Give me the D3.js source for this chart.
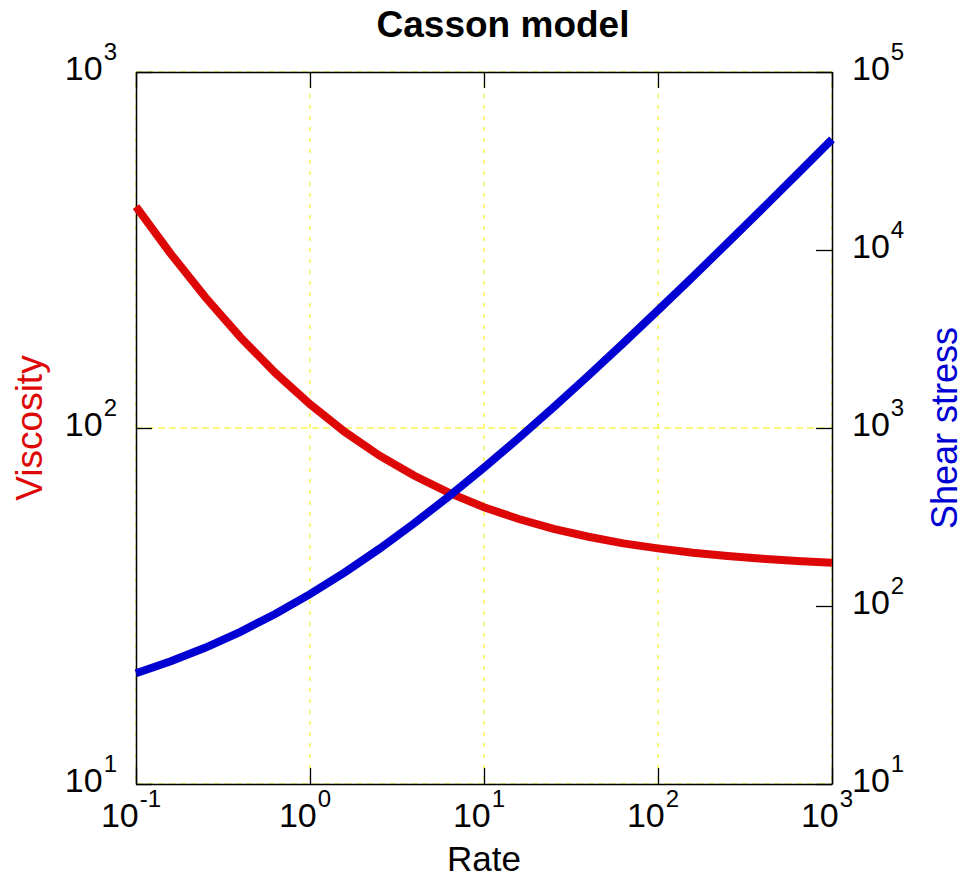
<!DOCTYPE html>
<meta charset="utf-8">
<style>
body { margin: 0; background: #fff; }
text { font-family: "Liberation Sans", Arial, sans-serif; }
</style>
<svg width="967" height="880"></svg>
<script src="https://d3js.org/d3.v7.min.js"></script>
<script>

// rate points (5 per decade) and values
var rate = [0.1, 0.1585, 0.2512, 0.3981, 0.631, 1, 1.585, 2.512, 3.981, 6.31, 10,
            15.85, 25.12, 39.81, 63.1, 100, 158.5, 251.2, 398.1, 631, 1000];
var viscosity = [418.9, 308.3, 232.5, 179.9, 142.9, 116.6, 97.5, 83.6, 73.4, 65.7, 59.9,
                 55.5, 52.1, 49.5, 47.4, 45.9, 44.6, 43.7, 42.9, 42.3, 41.8];
var shearStress = [41.9, 48.9, 58.4, 71.6, 90.2, 116.6, 154.6, 210.1, 292.1, 414.5, 598.9,
                   879.2, 1308, 1970, 2993, 4586, 7073, 10965, 17075, 26683, 41809];

var xTicks = [0.1, 1, 10, 100, 1000];
var leftTicks = [10, 100, 1000];
var rightTicks = [10, 100, 1000, 10000, 100000];

var red = "#de0707", blue = "#0000d2";

var svg = d3.select("svg"),
    margin = {top: 72, right: 135, bottom: 96, left: 136},
    width = +svg.attr("width") - margin.left - margin.right,
    height = +svg.attr("height") - margin.top - margin.bottom,
    g = svg.append("g").attr("transform", "translate(" + margin.left + "," + margin.top + ")");

var x = d3.scaleLog().domain([0.1, 1000]).range([0, width]);
var yL = d3.scaleLog().domain([10, 1000]).range([height, 0]);
var yR = d3.scaleLog().domain([10, 100000]).range([height, 0]);

// grid (left axes only)
g.selectAll(".vgrid")
  .data(xTicks)
  .enter().append("line")
    .attr("x1", d => x(d)).attr("x2", d => x(d))
    .attr("y1", 0).attr("y2", height)
    .attr("stroke", "#f0f000").attr("stroke-width", 1)
    .attr("stroke-dasharray", "4,7");

g.selectAll(".hgrid")
  .data(leftTicks)
  .enter().append("line")
    .attr("x1", 0).attr("x2", width)
    .attr("y1", d => yL(d)).attr("y2", d => yL(d))
    .attr("stroke", "#f0f000").attr("stroke-width", 1)
    .attr("stroke-dasharray", "7,4");

// axes, ticks inward
g.append("g")
    .attr("transform", "translate(0," + height + ")")
    .call(d3.axisBottom(x).tickValues(xTicks).tickFormat("").tickSizeInner(-16).tickSizeOuter(0));
g.append("g")
    .call(d3.axisTop(x).tickValues(xTicks).tickFormat("").tickSizeInner(-16).tickSizeOuter(0));
g.append("g")
    .call(d3.axisLeft(yL).tickValues(leftTicks).tickFormat("").tickSizeInner(-16).tickSizeOuter(0));
g.append("g")
    .attr("transform", "translate(" + width + ",0)")
    .call(d3.axisRight(yR).tickValues(rightTicks).tickFormat("").tickSizeInner(-16).tickSizeOuter(0));

g.selectAll(".domain").attr("stroke", "#000").attr("stroke-width", 1.5);
g.selectAll(".tick line").attr("stroke", "#000").attr("stroke-width", 1.3);

// curves
var lineL = d3.line().x((d, i) => x(rate[i])).y(d => yL(d));
var lineR = d3.line().x((d, i) => x(rate[i])).y(d => yR(d));

g.append("path")
    .datum(viscosity)
    .attr("fill", "none")
    .attr("stroke", red)
    .attr("stroke-width", 8)
    .attr("d", lineL);

g.append("path")
    .datum(shearStress)
    .attr("fill", "none")
    .attr("stroke", blue)
    .attr("stroke-width", 8)
    .attr("d", lineR);

// power-of-ten labels
function exponent(v) { return String(Math.round(Math.log10(v))); }

function powLabel(sel) {
  sel.append("tspan").text("10");
  sel.append("tspan")
      .attr("dy", -20)
      .attr("dx", 1)
      .style("font-size", "24px")
      .text(d => exponent(d));
}

g.selectAll(".xlab")
  .data(xTicks)
  .enter().append("text")
    .attr("x", d => x(d) - 5)
    .attr("y", height + 43)
    .attr("text-anchor", "middle")
    .style("font-size", "34px")
    .call(powLabel);

g.selectAll(".ylab")
  .data(leftTicks)
  .enter().append("text")
    .attr("x", -19)
    .attr("y", d => yL(d) + 8)
    .attr("text-anchor", "end")
    .style("font-size", "34px")
    .call(powLabel);

g.selectAll(".rlab")
  .data(rightTicks)
  .enter().append("text")
    .attr("x", width + 20)
    .attr("y", d => yR(d) + 8)
    .attr("text-anchor", "start")
    .style("font-size", "34px")
    .call(powLabel);

// titles
svg.append("text")
    .attr("x", 503)
    .attr("y", 37)
    .attr("text-anchor", "middle")
    .style("font-size", "37px")
    .style("font-weight", "bold")
    .text("Casson model");

svg.append("text")
    .attr("x", margin.left + width / 2)
    .attr("y", 871)
    .attr("text-anchor", "middle")
    .style("font-size", "35px")
    .text("Rate");

svg.append("text")
    .attr("transform", "translate(42," + (margin.top + height / 2) + ") rotate(-90)")
    .attr("text-anchor", "middle")
    .attr("fill", red)
    .style("font-size", "37px")
    .text("Viscosity");

svg.append("text")
    .attr("transform", "translate(957," + (margin.top + height / 2) + ") rotate(-90)")
    .attr("text-anchor", "middle")
    .attr("fill", blue)
    .style("font-size", "36px")
    .text("Shear stress");

</script>
